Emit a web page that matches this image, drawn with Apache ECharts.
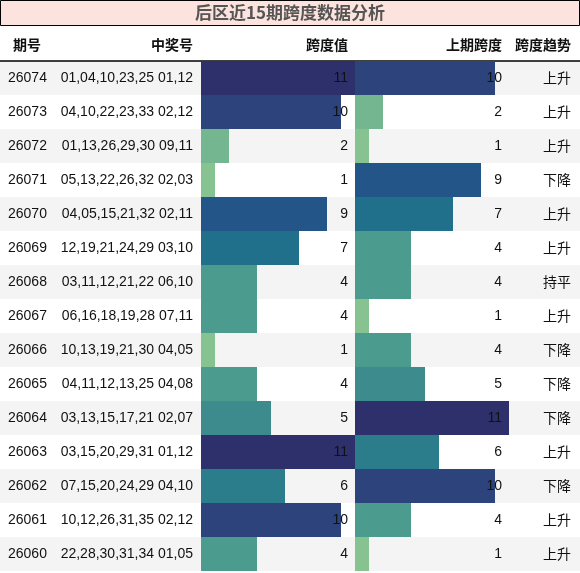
<!DOCTYPE html><html><head><meta charset="utf-8"><script src="https://cdn.jsdelivr.net/npm/echarts@6/dist/echarts.min.js"></script>
<style>body{margin:0}#c{width:580px;height:573px}</style></head><body><div id="c"></div><script>
const periods=['26074','26073','26072','26071','26070','26069','26068','26067','26066','26065','26064','26063','26062','26061','26060'];
const numbers=['01,04,10,23,25 01,12','04,10,22,23,33 02,12','01,13,26,29,30 09,11','05,13,22,26,32 02,03','04,05,15,21,32 02,11','12,19,21,24,29 03,10','03,11,12,21,22 06,10','06,16,18,19,28 07,11','10,13,19,21,30 04,05','04,11,12,13,25 04,08','03,13,15,17,21 02,07','03,15,20,29,31 01,12','07,15,20,24,29 04,10','10,12,26,31,35 02,12','22,28,30,31,34 01,05'];
const spans=[11,10,2,1,9,7,4,4,1,4,5,11,6,10,4];
const prevSpans=[10,2,1,9,7,4,4,1,4,5,11,6,10,4,1];
const trends=['上升','上升','上升','下降','上升','上升','持平','上升','下降','下降','下降','上升','下降','上升','上升'];
const headers=['期号','中奖号','跨度值','上期跨度','跨度趋势'];
const title='后区近15期跨度数据分析';
const palette={1:'#86c391',2:'#74b68f',3:'#5eaa8f',4:'#4b9c8f',5:'#3e8b8e',6:'#2c7d8c',7:'#21708b',8:'#22638b',9:'#235588',10:'#2c437b',11:'#2e306c'};
const MAX=11;
const top0=61,rowH=34,n=periods.length;
const chart=echarts.init(document.getElementById('c'));
const g=[];
g.push({type:'rect',shape:{x:0.5,y:0.5,width:579,height:25},style:{fill:'#fde3dd',stroke:'#000',lineWidth:1}});
g.push({type:'text',x:290,y:13,style:{text:title,fill:'#555',font:'bold 17px "Noto Sans CJK SC"',align:'center',verticalAlign:'middle'}});
for(let i=0;i<n;i++){if(i%2===0)g.push({type:'rect',z:-10,shape:{x:0,y:top0+i*rowH,width:580,height:rowH},style:{fill:'#f4f4f4'}});
 const cy=top0+i*rowH+rowH/2;
 g.push({type:'text',x:8,y:cy,style:{text:periods[i],fill:'#111',font:'14px "Liberation Sans"',verticalAlign:'middle'}});
 g.push({type:'text',x:193,y:cy,style:{text:numbers[i],fill:'#111',font:'14px "Liberation Sans"',align:'right',verticalAlign:'middle'}});
 g.push({type:'text',x:571,y:cy,style:{text:trends[i],fill:'#111',font:'14px "Noto Sans CJK SC"',align:'right',verticalAlign:'middle'}});
}
const hx=[[27,'center'],[193,'right'],[348,'right'],[502,'right'],[571,'right']];
headers.forEach((h,k)=>g.push({type:'text',x:hx[k][0],y:45,style:{text:h,fill:'#111',font:'bold 14px "Noto Sans CJK SC"',align:hx[k][1],verticalAlign:'middle'}}));
g.push({type:'line',shape:{x1:0,y1:61,x2:580,y2:61},style:{stroke:'#000',lineWidth:1.5}});
const cats=periods.map((p,i)=>i);
function grid(l){return {left:l,top:top0,width:154,height:n*rowH};}
function bars(vals,idx){return [
 {type:'bar',xAxisIndex:idx,yAxisIndex:idx,barWidth:'100%',data:vals.map(v=>({value:v,itemStyle:{color:palette[v]}})),silent:true,z:2},
 {type:'bar',xAxisIndex:idx,yAxisIndex:idx,barWidth:'100%',barGap:'-100%',data:vals.map(v=>({value:MAX,label:{formatter:String(v)}})),itemStyle:{color:'rgba(0,0,0,0)'},label:{show:true,position:'insideRight',distance:7,color:'#111',fontSize:14,fontFamily:'Liberation Sans'},silent:true,z:3}];}
chart.setOption({animation:false,graphic:g,
 grid:[grid(201),grid(355)],
 xAxis:[0,1].map(i=>({gridIndex:i,type:'value',min:0,max:MAX,show:false})),
 yAxis:[0,1].map(i=>({gridIndex:i,type:'category',data:cats,inverse:true,show:false})),
 series:[...bars(spans,0),...bars(prevSpans,1)]});
</script></body></html>
